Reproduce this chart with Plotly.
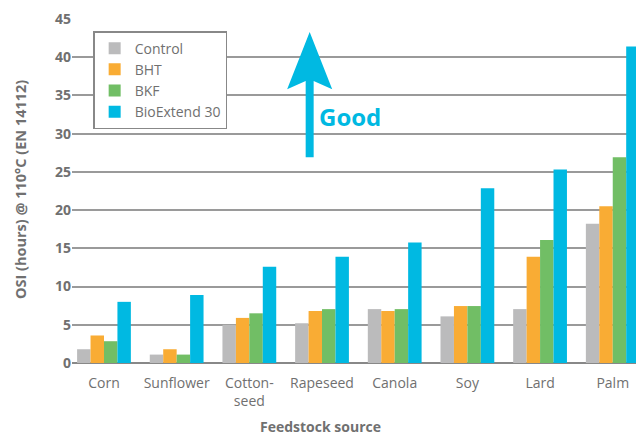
import plotly.graph_objects as go

categories = ["Corn", "Sunflower", "Cotton-<br>seed", "Rapeseed", "Canola", "Soy", "Lard", "Palm"]
control = [1.8, 1.1, 5.0, 5.2, 7.05, 6.1, 7.05, 18.2]
bht = [3.6, 1.8, 5.9, 6.8, 6.8, 7.45, 13.9, 20.5]
bkf = [2.85, 1.1, 6.5, 7.05, 7.05, 7.45, 16.1, 26.9]
bioextend = [8.0, 8.9, 12.6, 13.9, 15.75, 22.85, 25.3, 41.4]
y_ticks = [0, 5, 10, 15, 20, 25, 30, 35, 40, 45]

series = [("Control", control, "#BBBBBC"), ("BHT", bht, "#F9AC34"),
          ("BKF", bkf, "#71BE65"), ("BioExtend 30", bioextend, "#00B9E2")]

FONT = "Open Sans"
GREY = "#707070"
CYAN = "#00B9E2"

fig = go.Figure()
for name, vals, col in series:
    fig.add_trace(go.Bar(x=list(range(len(categories))), y=vals, name=name,
                         marker=dict(color=col, line=dict(width=0))))

# arrow (shaft + head) in data coordinates
ax_x = 2.83
hw = 0.055
fig.add_shape(type="path", xref="x", yref="y",
              path=f"M {ax_x-hw} 26.9 L {ax_x-hw} 36.9 L {ax_x-0.31} 35.8 L {ax_x} 43.3 "
                   f"L {ax_x+0.31} 35.8 L {ax_x+hw} 36.9 L {ax_x+hw} 26.9 Z",
              fillcolor=CYAN, line=dict(width=0), layer="above")
fig.add_annotation(x=ax_x + 0.1, y=32.2, xref="x", yref="y", text="<b>Good</b>",
                   showarrow=False, xanchor="left", yanchor="middle",
                   font=dict(family=FONT, size=24, color=CYAN))
fig.add_annotation(x=0.434, y=-0.186, xref="paper", yref="paper", text="<b>Feedstock source</b>",
                   showarrow=False, xanchor="center", yanchor="middle",
                   font=dict(family=FONT, size=14, color=GREY))
fig.add_annotation(x=-0.089, y=0.503, xref="paper", yref="paper",
                   text="<b>OSI (hours) @ 110°C (EN 14112)</b>", textangle=-90,
                   showarrow=False, xanchor="center", yanchor="middle",
                   font=dict(family=FONT, size=14.5, color=GREY))

fig.update_layout(
    width=636, height=428,
    margin=dict(l=64, r=0, t=11, b=73),
    paper_bgcolor="white", plot_bgcolor="white",
    barmode="group", bargap=0.26, bargroupgap=0,
    font=dict(family=FONT, color=GREY),
    legend=dict(x=0.037, y=0.965, xanchor="left", yanchor="top",
                bgcolor="white", bordercolor="#888888", borderwidth=1.5,
                font=dict(family=FONT, size=14, color=GREY),
                tracegroupgap=0, itemwidth=30),
    xaxis=dict(tickmode="array", tickvals=list(range(len(categories))), ticktext=categories,
               range=[-0.44, 7.43], showgrid=False, showline=False, ticks="",
               tickfont=dict(family=FONT, size=14, color=GREY), ticklabelstandoff=10),
    yaxis=dict(range=[0, 45], tickvals=y_ticks, showgrid=True, gridcolor="#9A9A9A", gridwidth=1.5,
               zeroline=True, zerolinecolor="#888888", zerolinewidth=2,
               tickfont=dict(family=FONT, size=14, color=GREY, weight="bold")),
    showlegend=True,
)
fig.write_html("out.html")
